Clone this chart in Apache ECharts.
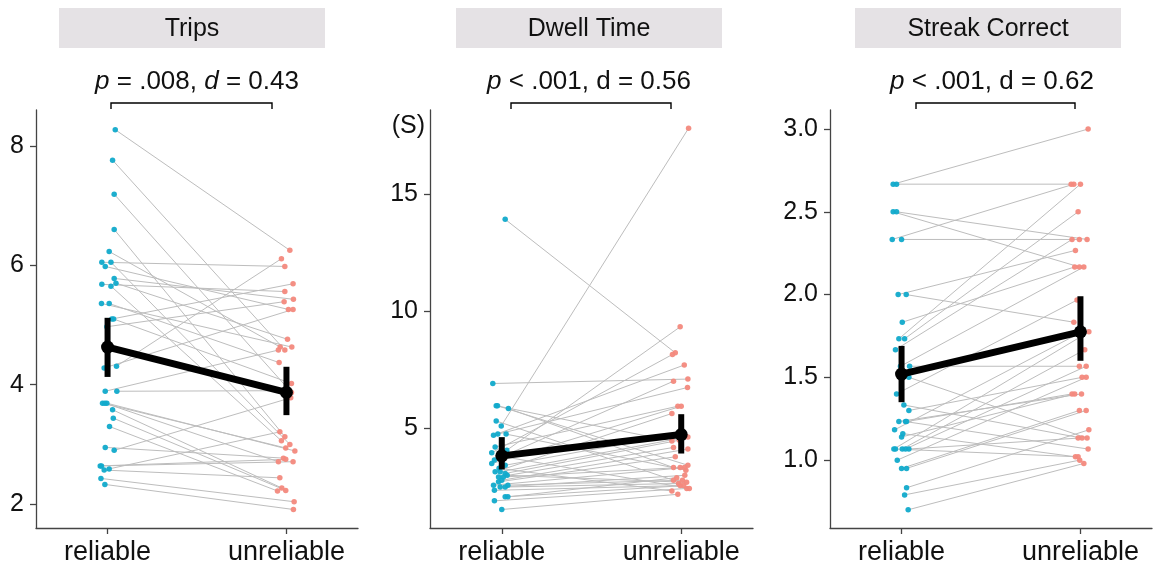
<!DOCTYPE html>
<html><head><meta charset="utf-8">
<script src="https://cdn.jsdelivr.net/npm/echarts@6/dist/echarts.min.js"></script>
<style>html,body{margin:0;padding:0;background:#fff}#c{width:1154px;height:567px}</style>
</head><body><div id="c"></div>
<script>
// ---------- data ----------
const categories = ['reliable', 'unreliable'];
const panelTitles = ['Trips', 'Dwell Time', 'Streak Correct'];
const panelStats = ['{i|p} = .008, {i|d} = 0.43', '{i|p} < .001, d = 0.56', '{i|p} < .001, d = 0.62'];

// Trips (paired by index; X = jittered category position)
const tripsRel  = [8.27,7.76,7.19,6.60,6.23,6.05,5.98,6.05,5.78,5.70,5.68,5.65,5.36,5.36,5.10,5.10,4.97,4.31,4.28,3.89,3.89,3.69,3.69,3.69,3.58,3.44,3.30,2.95,2.90,2.64,2.64,2.59,2.57,2.43,2.33];
const tripsRelX = [1.043,1.028,1.037,1.037,1.009,0.968,0.987,1.019,1.037,1.047,0.968,1.019,0.966,1.009,1.024,1.034,0.996,1.050,0.981,1.052,0.987,0.972,0.996,0.985,1.028,1.032,1.011,0.987,1.037,0.959,0.966,1.009,0.981,0.963,0.985];
const tripsUnr  = [6.25,4.58,3.87,3.13,4.63,5.98,5.26,3.00,5.43,4.76,5.56,3.06,4.63,4.37,5.69,4.02,5.39,6.11,5.26,3.90,4.58,2.94,2.89,2.71,2.27,2.23,2.22,2.77,3.78,2.75,2.71,3.21,2.44,2.04,1.91];
const tripsUnrX = [2.019,1.991,2.028,1.991,1.965,1.991,2.011,2.019,2.039,2.006,1.991,1.972,2.030,1.959,2.037,2.028,1.987,1.972,2.037,2.015,1.955,1.996,2.047,1.955,1.974,1.996,1.950,1.983,2.024,1.996,2.037,1.963,1.963,2.043,2.039];
const tripsMean = [4.63, 3.87];
const tripsLo   = [4.13, 3.49];
const tripsHi   = [5.12, 4.30];
const tripsTicks = [2, 4, 6, 8];

// Dwell Time
const dwellRel  = [13.93,6.92,5.97,5.97,5.85,5.32,5.11,4.71,4.76,4.76,4.21,4.07,3.96,3.65,3.50,3.43,3.15,3.15,3.08,2.93,2.93,2.79,2.72,2.58,2.58,2.50,2.50,2.36,2.08,2.08,1.91,1.54,3.80,3.30,3.00];
const dwellRelX = [1.019,0.950,0.969,0.976,1.037,0.969,0.997,0.954,0.978,1.024,0.963,1.028,0.944,0.959,0.944,1.019,0.963,0.991,1.019,0.982,1.009,1.000,0.982,0.954,1.034,0.991,1.019,0.959,1.019,1.034,0.959,1.000,1.005,0.985,1.030];
const dwellUnr  = [8.23,7.11,4.46,3.43,3.33,2.79,17.82,7.71,6.75,3.22,5.95,9.34,8.16,7.02,5.95,4.80,5.64,4.64,4.50,4.19,3.33,4.12,3.79,3.33,2.79,3.00,2.65,2.56,2.56,2.90,2.44,2.19,2.44,2.33,2.70];
const dwellUnrX = [1.967,2.037,1.948,2.037,1.957,1.957,2.041,2.017,2.035,2.026,1.981,1.994,1.951,1.957,2.000,2.010,1.948,2.037,1.990,1.957,1.994,2.037,1.967,2.018,2.007,2.020,1.985,1.994,2.013,1.975,2.031,1.981,2.045,1.948,2.030];
const dwellMean = [3.83, 4.74];
const dwellLo   = [3.25, 3.93];
const dwellHi   = [4.63, 5.61];
const dwellTicks = [5, 10, 15];

// Streak Correct
const streakRel  = [2.667,2.667,2.5,2.5,2.333,2.333,2.0,2.0,1.833,1.733,1.733,1.667,1.567,1.567,1.5,1.4,1.333,1.3,1.233,1.233,1.233,1.183,1.16,1.14,1.067,1.067,1.067,1.067,1.067,1.0,0.95,0.95,0.833,0.79,0.70];
const streakRelX = [0.953,0.972,0.953,0.972,0.948,1.000,0.981,1.026,1.004,0.985,1.017,0.966,0.994,1.045,1.041,0.972,1.013,1.041,0.985,1.022,1.028,0.961,1.007,1.000,0.957,0.966,1.004,1.022,1.041,0.976,1.000,1.028,1.028,1.017,1.037];
const streakUnr  = [3.0,2.667,2.167,2.333,2.667,2.333,2.267,1.833,2.167,2.667,2.5,2.333,2.167,1.567,1.133,1.967,1.133,1.5,1.4,1.067,1.4,1.775,1.02,1.4,1.775,1.02,1.667,1.567,1.133,1.5,1.3,1.3,1.183,1.0,0.98];
const streakUnrX = [2.043,1.948,1.994,2.037,1.963,1.994,1.972,1.963,1.968,2.000,1.987,1.953,2.019,1.994,2.037,1.981,2.009,2.009,2.006,2.043,1.953,2.009,1.972,1.968,2.047,1.987,2.024,2.032,1.987,2.032,1.994,2.032,2.047,1.996,2.019];
const streakMean = [1.52, 1.775];
const streakLo   = [1.35, 1.60];
const streakHi   = [1.69, 1.99];
const streakTicks = [1.0, 1.5, 2.0, 2.5, 3.0];

// ---------- chart ----------
const FONT = '"Liberation Sans", Arial, Helvetica, sans-serif';
const RELC = '#11AACB';
const UNRC = '#F3897D';
const TXT = '#111';
const AX = '#444';

const panels = [
  {rel: tripsRel, relX: tripsRelX, unr: tripsUnr, unrX: tripsUnrX, mean: tripsMean, lo: tripsLo, hi: tripsHi, ticks: tripsTicks, ymin: 1.6, ymax: 8.6, fmt: v => String(v)},
  {rel: dwellRel, relX: dwellRelX, unr: dwellUnr, unrX: dwellUnrX, mean: dwellMean, lo: dwellLo, hi: dwellHi, ticks: dwellTicks, ymin: 0.75, ymax: 18.6, fmt: v => String(v)},
  {rel: streakRel, relX: streakRelX, unr: streakUnr, unrX: streakUnrX, mean: streakMean, lo: streakLo, hi: streakHi, ticks: streakTicks, ymin: 0.59, ymax: 3.115, fmt: v => v.toFixed(1)}
];

const grids = [
  {left: 36, top: 110, width: 322, height: 418},
  {left: 430, top: 110, width: 323, height: 418},
  {left: 830, top: 110, width: 322, height: 418}
];

const xAxes = [], yAxes = [], series = [];
panels.forEach((p, k) => {
  xAxes.push({
    gridIndex: k, type: 'value', min: 0.6, max: 2.4,
    axisLine: {show: true, lineStyle: {color: AX, width: 1.3}},
    axisTick: {show: true, customValues: [1, 2], length: 6, lineStyle: {color: AX, width: 1.3}},
    axisLabel: {customValues: [1, 2], formatter: v => categories[Math.round(v) - 1], fontSize: 27, fontFamily: FONT, color: TXT, margin: 11},
    splitLine: {show: false}
  });
  yAxes.push({
    gridIndex: k, type: 'value', min: p.ymin, max: p.ymax,
    axisLine: {show: true, lineStyle: {color: AX, width: 1.3}},
    axisTick: {show: true, customValues: p.ticks, length: 6, lineStyle: {color: AX, width: 1.3}},
    axisLabel: {customValues: p.ticks, formatter: p.fmt, fontSize: 25, fontFamily: FONT, color: TXT, margin: 12},
    splitLine: {show: false}
  });
  // paired lines
  series.push({
    type: 'custom', xAxisIndex: k, yAxisIndex: k, silent: true, z: 1,
    data: p.rel.map((v, i) => [p.relX[i], v, p.unrX[i], p.unr[i]]),
    encode: {x: [0, 2], y: [1, 3]},
    renderItem: (params, api) => {
      const a = api.coord([api.value(0), api.value(1)]);
      const b = api.coord([api.value(2), api.value(3)]);
      return {type: 'line', shape: {x1: a[0], y1: a[1], x2: b[0], y2: b[1]}, style: {stroke: '#bdbdbd', lineWidth: 1}};
    }
  });
  series.push({
    type: 'scatter', xAxisIndex: k, yAxisIndex: k, z: 2, silent: true,
    data: p.rel.map((v, i) => [p.relX[i], v]),
    symbolSize: 5.5, itemStyle: {color: RELC, opacity: 0.95}
  });
  series.push({
    type: 'scatter', xAxisIndex: k, yAxisIndex: k, z: 2, silent: true,
    data: p.unr.map((v, i) => [p.unrX[i], v]),
    symbolSize: 5.5, itemStyle: {color: UNRC, opacity: 0.95}
  });
  // error bars
  series.push({
    type: 'custom', xAxisIndex: k, yAxisIndex: k, silent: true, z: 3,
    data: p.mean.map((m, i) => [i + 1, p.lo[i], p.hi[i]]),
    encode: {x: 0, y: [1, 2]},
    renderItem: (params, api) => {
      const a = api.coord([api.value(0), api.value(1)]);
      const b = api.coord([api.value(0), api.value(2)]);
      return {type: 'line', shape: {x1: a[0], y1: a[1], x2: b[0], y2: b[1]}, style: {stroke: '#000', lineWidth: 6}};
    }
  });
  // mean line
  series.push({
    type: 'line', xAxisIndex: k, yAxisIndex: k, z: 4, silent: true,
    data: p.mean.map((m, i) => [i + 1, m]),
    lineStyle: {color: '#000', width: 7},
    symbol: 'circle', symbolSize: 13, itemStyle: {color: '#000'}
  });
});

const stripX = [59, 456, 855];
const statX = [197, 589, 992];
const brackets = [[111, 272], [511, 671], [916, 1075]];
const graphic = [];
panelTitles.forEach((t, k) => {
  graphic.push({type: 'rect', shape: {x: stripX[k], y: 8, width: 266, height: 40}, style: {fill: '#e5e2e5'}, z: 0});
  graphic.push({type: 'text', x: stripX[k] + 133, y: 29, style: {text: t, fontSize: 25, fontFamily: FONT, fill: TXT, align: 'center', verticalAlign: 'middle'}});
  graphic.push({type: 'text', x: statX[k], y: 82, style: {text: panelStats[k], fontSize: 26, fontFamily: FONT, fill: TXT, align: 'center', verticalAlign: 'middle',
    rich: {i: {fontStyle: 'italic', fontSize: 26, fontFamily: FONT, fill: TXT}}}});
  const [x1, x2] = brackets[k];
  graphic.push({type: 'polyline', shape: {points: [[x1, 109], [x1, 103], [x2, 103], [x2, 109]]}, style: {stroke: '#000', lineWidth: 1.4, fill: null}});
});
graphic.push({type: 'text', x: 425, y: 126, style: {text: '(S)', fontSize: 25, fontFamily: FONT, fill: TXT, align: 'right', verticalAlign: 'middle'}});

const chart = echarts.init(document.getElementById('c'), null, {renderer: 'canvas'});
chart.setOption({
  animation: false,
  backgroundColor: '#fff',
  grid: grids,
  xAxis: xAxes,
  yAxis: yAxes,
  series: series,
  graphic: graphic
});
</script>
</body></html>
